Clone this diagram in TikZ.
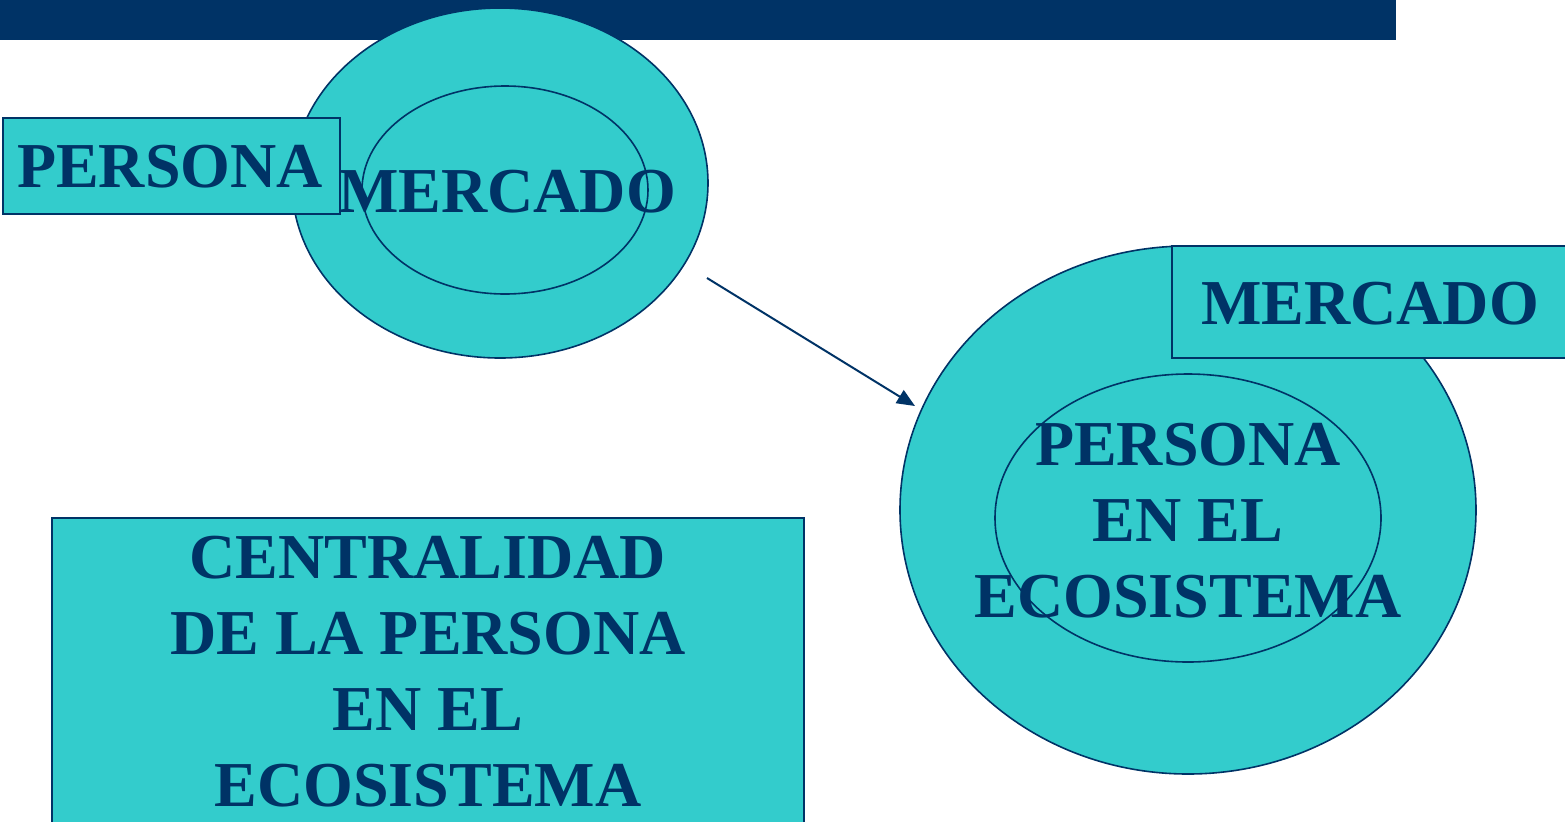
\documentclass[tikz,border=0pt]{standalone}
\usepackage{fontspec}
\setmainfont{Liberation Serif}
\usetikzlibrary{shapes.geometric,arrows.meta}
\definecolor{navy}{HTML}{003366}
\definecolor{turq}{HTML}{33CCCC}
\tikzset{
  oval/.style={ellipse, draw=navy, fill=turq, line width=0.8pt, inner sep=0pt},
  tagbox/.style={rectangle, draw=navy, fill=turq, line width=0.8pt, inner sep=0pt},
  word/.style={text=navy, font=\bfseries\fontsize{32}{38}\selectfont, align=center, inner sep=0pt}
}

\begin{document}
\begin{tikzpicture}[x=0.5pt, y=-0.5pt]
	\useasboundingbox (0,0) rectangle (1565,821);
	\clip (0,0) rectangle (1565,821);
	% banda superior
	\fill[navy] (0,0) rectangle (1396,40);
	% la persona fuera del mercado
	\node[oval, minimum width=208pt, minimum height=175pt] (mercadoA) at (500,183) {};
	\node[oval, minimum width=143pt, minimum height=104pt] (centroA) at (505,190) {};
	\node[tagbox, minimum width=168.5pt, minimum height=48pt] (boxA) at (171.5,166) {};
	\node[word] (personaA) at (170,167) {PERSONA};
	\node[word] (txtmercadoA) at (507,192) {MERCADO};
	% el mercado en el ecosistema
	\node[oval, minimum width=288pt, minimum height=264pt] (mercadoB) at (1188,510) {};
	\node[oval, minimum width=193pt, minimum height=144pt] (centroB) at (1188,518) {};
	\node[tagbox, minimum width=199pt, minimum height=56pt] (boxB) at (1371,302) {};
	\node[word] (txtmercadoB) at (1370,304) {MERCADO};
	\node[word] (personaB) at (1188,521) {PERSONA\\EN EL\\ECOSISTEMA};
	% flecha
	\coordinate (arrowstart) at (707,278);
	\coordinate (arrowend) at (915,406);
	\draw[-{Triangle[length=9pt,width=7.5pt]}, navy, line width=1pt] (arrowstart) -- (arrowend);
	% recuadro inferior
	\node[tagbox, minimum width=376pt, minimum height=154pt] (boxC) at (428,672) {};
	\node[word] (centralidad) at (428,672) {CENTRALIDAD\\DE LA PERSONA\\EN EL\\ECOSISTEMA};
\end{tikzpicture}
\end{document}
